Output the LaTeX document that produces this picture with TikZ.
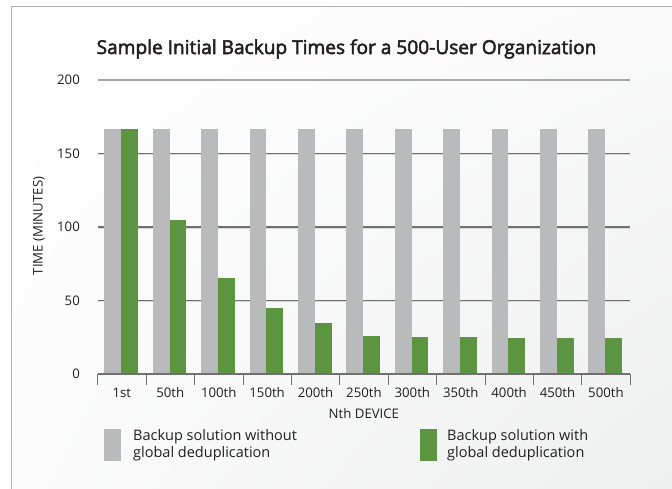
\documentclass[tikz,border=0pt]{standalone}
\usepackage{fontspec}
\usetikzlibrary{shadings}
\setmainfont{Open Sans}
\newfontfamily\titlefont[FakeBold=2.6]{Open Sans}
\definecolor{barg}{RGB}{185,186,188}
\definecolor{bargreen}{RGB}{91,149,64}
\definecolor{gridc}{RGB}{112,112,112}
\definecolor{gridtop}{RGB}{168,168,168}
\definecolor{gridsh}{RGB}{218,218,218}
\definecolor{framec}{RGB}{176,176,176}
\definecolor{txt}{RGB}{35,31,32}
\definecolor{bgend}{RGB}{238,239,239}
\tikzset{
  lbl/.style={inner sep=0pt, text=txt, font=\fontsize{13.2}{15}\selectfont},
  gridline/.style={gridc, line width=1.2pt},
  gridshadow/.style={gridsh, line width=1.2pt},
  graybar/.style={fill=barg, draw=none},
  greenbar/.style={fill=bargreen, draw=none},
  tickline/.style={gridc, line width=0.8pt},
}
\begin{document}
\begin{tikzpicture}[x=1pt,y=-1pt]
\useasboundingbox (0,0) rectangle (672,489);
\shade[upper left=white, upper right=white!96!gray, lower left=white!97!gray, lower right=bgend] (11,7) rectangle (672,489);
\draw[framec, line width=1pt] (11,489) -- (11,7) -- (672,7);
% title
\node[inner sep=0pt, text=txt, font=\titlefont\fontsize{19.1}{22}\selectfont] (title) at (346.5,49) {Sample Initial Backup Times for a 500-User Organization};
% grid
\draw[gridtop, line width=1.5pt] (97.7,80) -- (630,80);
\foreach \v in {50,100,150}{
  \draw[gridshadow] (97.7,{374-1.47*\v+1.3}) -- (630,{374-1.47*\v+1.3});
  \draw[gridline] (97.7,{374-1.47*\v}) -- (630,{374-1.47*\v});
}
% y labels
\foreach \v in {0,50,100,150,200}{
  \node[lbl, anchor=east] (y\v) at (80,{374-1.47*\v}) {\v};
}
\node[lbl, rotate=90] (ytitle) at (39,226) {TIME (MINUTES)};
% bars
\foreach \g [count=\i from 0] in {167,104.5,65,45,34.5,26,25,25,24.2,24.2,24.2}{
  \pgfmathsetmacro{\xl}{97.7+48.4*\i}
  \fill[graybar] ({\xl+6.6},374) rectangle ({\xl+23.4},{374-1.47*166.5});
  \fill[greenbar] ({\xl+23.4},374) rectangle ({\xl+40.2},{374-1.47*\g});
}
% axis
\draw[gridline] (97.7,374) -- (630,374);
\foreach \i in {0,...,11}{
  \draw[tickline] ({97.7+48.4*\i},374) -- ({97.7+48.4*\i},385);
}
\foreach \t [count=\i from 0] in {1st,50th,100th,150th,200th,250th,300th,350th,400th,450th,500th}{
  \node[lbl] (c\i) at ({97.7+48.4*\i+24.2},393) {\t};
}
\node[lbl] (xtitle) at (363.9,414) {Nth DEVICE};
% legend
\fill[graybar] (104,429) rectangle (121,461);
\node[lbl, anchor=west, align=left, font=\fontsize{14.5}{17}\selectfont] (leg1) at (133,445.5) {Backup solution without\\global deduplication};
\fill[greenbar] (420,429) rectangle (437,461);
\node[lbl, anchor=west, align=left, font=\fontsize{14.5}{17}\selectfont] (leg2) at (447,445.5) {Backup solution with\\global deduplication};
\end{tikzpicture}
\end{document}
